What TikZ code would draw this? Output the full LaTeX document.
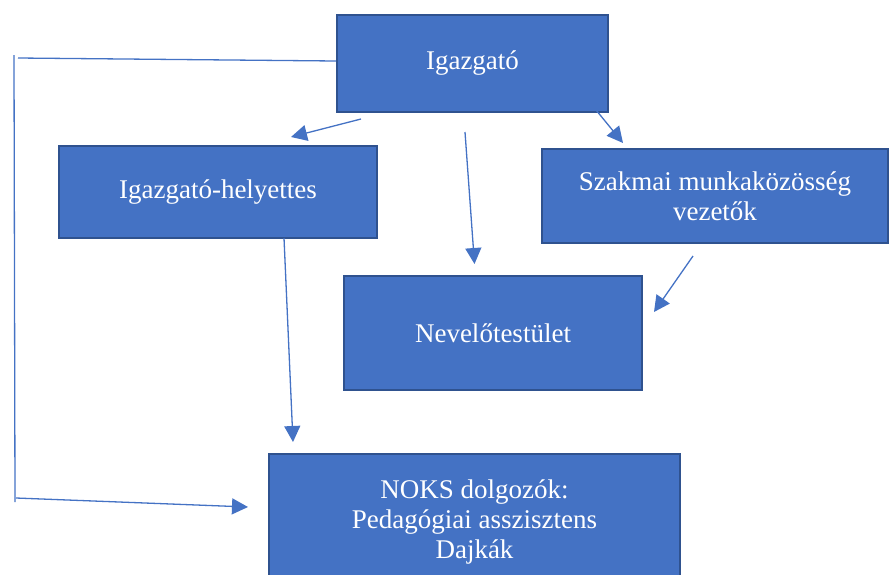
\documentclass[tikz,border=0pt]{standalone}
\usepackage{fontspec}
\setmainfont{Liberation Serif}
\usetikzlibrary{arrows.meta}
\definecolor{boxfill}{HTML}{4472C4}
\definecolor{boxedge}{HTML}{2F528F}
\definecolor{linec}{HTML}{4472C4}
\begin{document}
\begin{tikzpicture}[x=1pt,y=-1pt,
  box/.style={draw=boxedge,fill=boxfill,line width=2.2pt,text=white,align=center,
    inner sep=0pt,font=\fontsize{27}{30}\selectfont},
  conn/.style={draw=linec,line width=1.3pt},
  arr/.style={conn,-{Triangle[length=16pt,width=16pt]}}]
\useasboundingbox (0,0) rectangle (889,574);
\begin{scope}
\clip (0,0) rectangle (889,574);
\node[box,minimum width=271,minimum height=97] (dir) at (472.5,63.5) {Igazgató};
\node[box,minimum width=318,minimum height=92] (dep) at (218,192) {Igazgató-helyettes};
\node[box,minimum width=346,minimum height=94] (szm) at (715,196) {Szakmai munkaközösség\\vezetők};
\node[box,minimum width=298,minimum height=114] (nev) at (493,333) {Nevelőtestület};
\node[box,minimum width=411,minimum height=136] (noks) at (474.5,522) {NOKS dolgozók:\\Pedagógiai asszisztens\\Dajkák};
\end{scope}
% left bracket connector
\coordinate (lt) at (18,58);
\coordinate (vt) at (14,55);
\coordinate (vb) at (15,502);
\coordinate (lb) at (16,498);
\coordinate (lbt) at (248,507);
\draw[conn] (dir.west |- 0,61) -- (lt);
\draw[conn] (vt) -- (vb);
\draw[arr] (lb) -- (lbt);
% arrows
\coordinate (a1s) at (361,119);
\coordinate (a1e) at (291,137);
\draw[arr] (a1s) -- (a1e);
\coordinate (a2s) at (465,132);
\coordinate (a2e) at (474.5,264);
\draw[arr] (a2s) -- (a2e);
\coordinate (a3s) at (596,110);
\coordinate (a3e) at (623,143);
\draw[arr] (a3s) -- (a3e);
\coordinate (a4s) at (693,256);
\coordinate (a4e) at (654,312);
\draw[arr] (a4s) -- (a4e);
\coordinate (a5s) at (284,238);
\coordinate (a5e) at (293,442);
\draw[arr] (a5s) -- (a5e);
\end{tikzpicture}
\end{document}
